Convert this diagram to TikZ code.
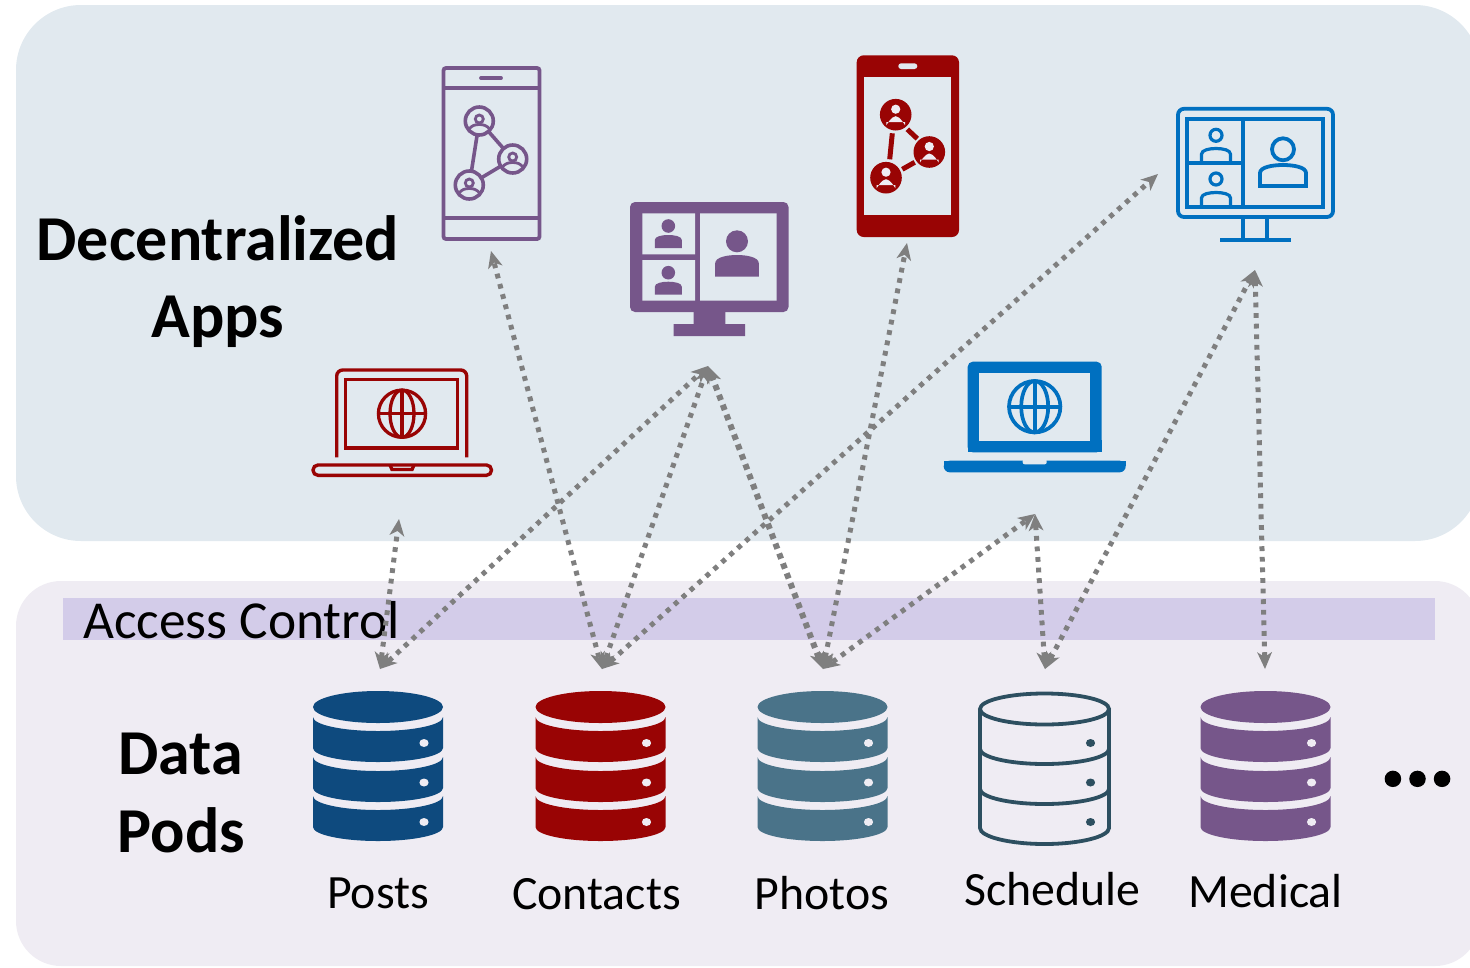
\documentclass[tikz,border=0pt]{standalone}
\usepackage{fontspec}
\setmainfont{Carlito}
\usetikzlibrary{arrows.meta}
\definecolor{appbg}{HTML}{E1E9EF}
\definecolor{podbg}{HTML}{EFECF3}
\definecolor{acband}{HTML}{D3CCE9}
\definecolor{navy}{HTML}{0E4A7E}
\definecolor{darkred}{HTML}{990404}
\definecolor{teal}{HTML}{4A7389}
\definecolor{slateline}{HTML}{2D4F60}
\definecolor{plum}{HTML}{76568A}
\definecolor{azure}{HTML}{0070C0}
\definecolor{linkgray}{HTML}{7F7F7F}
\tikzset{
  link/.style={draw=linkgray,line width=5pt,dash pattern=on 4.8pt off 5.8pt,
    {Stealth[length=17pt,width=15pt,inset=5pt,line width=0pt]}-{Stealth[length=17pt,width=15pt,inset=5pt,line width=0pt]}},
  heavylink/.style={link,line width=6pt,dash pattern=on 5.6pt off 5pt},
  headtext/.style={font=\bfseries\fontsize{64}{64}\selectfont,text=black,inner sep=0pt},
  podlabel/.style={font=\fontsize{47.8}{47.8}\selectfont,text=black,inner sep=0pt},
}
% one segment of a solid pod: top y, height
\newcommand{\dbseg}[2]{(-65,#1) .. controls (-65,#1+7.7) and (-36,#1+14) .. (0,#1+14) .. controls (36,#1+14) and (65,#1+7.7) .. (65,#1) -- (65,#1+#2) .. controls (65,#1+#2+7.7) and (36,#1+#2+14) .. (0,#1+#2+14) .. controls (-36,#1+#2+14) and (-65,#1+#2+7.7) .. (-65,#1+#2) -- cycle}
\newcommand{\podsolid}[2]{% cx, colour
  \begin{scope}[shift={(#1,0)}]
    \fill[#2] (0,707) ellipse [x radius=65pt,y radius=16pt];
    \fill[#2] \dbseg{717}{31} \dbseg{757}{31} \dbseg{796}{31};
    \foreach \yy in {743,782.5,822}{\fill[podbg] (46,\yy) ellipse [x radius=4.6pt,y radius=4pt];}
  \end{scope}}
% person: cx, head y, head r, half width, body top, body bottom, style
\newcommand{\prsn}[7]{%
  \path[#7] (#1,#2) circle [radius=#3 pt];
  \path[#7] (#1-#4,#6) -- (#1-#4,#5+0.38*#6-0.38*#5) .. controls (#1-#4,#5+0.1*#6-0.1*#5) and (#1-0.45*#4,#5) .. (#1,#5) .. controls (#1+0.45*#4,#5) and (#1+#4,#5+0.1*#6-0.1*#5) .. (#1+#4,#5+0.38*#6-0.38*#5) -- (#1+#4,#6) -- cycle;}
% globe: cx, cy, r, rx of meridian, line width, colour
\newcommand{\globe}[6]{%
  \draw[#6,line width=#5pt] (#1,#2) circle [radius=#3 pt];
  \draw[#6,line width=#5pt] (#1,#2) ellipse [x radius=#4 pt,y radius=#3 pt];
  \draw[#6,line width=#5pt] (#1,#2-#3) -- (#1,#2+#3) (#1-#3,#2) -- (#1+#3,#2);}
% ring with person for outline phone
\newcommand{\ringp}[2]{%
  \draw[plum,line width=3.6pt] (#1,#2) circle [radius=14pt];
  \draw[plum,line width=2.8pt] (#1,#2-2) circle [radius=4pt];
  \draw[plum,line width=2.8pt] (#1-10.5,#2+8.5) .. controls (#1-8,#2+4.5) and (#1-4,#2+3.5) .. (#1,#2+3.5) .. controls (#1+4,#2+3.5) and (#1+8,#2+4.5) .. (#1+10.5,#2+8.5);}
\begin{document}
\begin{tikzpicture}[x=1pt,y=-1pt]
\useasboundingbox (0,0) rectangle (1470,967);
\clip (0,0) rectangle (1470,967);
% panels
\fill[appbg,rounded corners=65pt] (16,5) rectangle (1480,541);
\fill[podbg,rounded corners=45pt] (16,581) rectangle (1480,966);
\fill[acband] (63,598) rectangle (1435,640);

% headings
\node[headtext] (htA) at (218,238) {Decentralized};
\node[headtext] (htB) at (218,322) {Apps};
\node[headtext] (htC) at (180.5,754) {Data};
\node[headtext] (htD) at (181.5,830) {Pods};
\node[font=\fontsize{53.4}{53.4}\selectfont,anchor=west,inner sep=0pt] (ac) at (83,620) {Access Control};

% purple outline phone
\draw[plum,line width=3.8pt,rounded corners=2.5pt] (443.5,68) rectangle (539.5,239);
\draw[plum,line width=3.8pt] (443.5,88) -- (539.5,88) (443.5,218) -- (539.5,218);
\draw[plum,line width=3.8pt,line cap=round] (481,78) -- (501,78);
\draw[plum,line width=3.6pt] (479.3,121) -- (512.7,159) -- (469.3,185) -- cycle;
\fill[appbg] (479.3,121) circle [radius=14pt] (512.7,159) circle [radius=14pt] (469.3,185) circle [radius=14pt];
\ringp{479.3}{121}\ringp{512.7}{159}\ringp{469.3}{185}

% purple solid monitor
\fill[plum,rounded corners=5pt] (630,202) rectangle (788.5,312);
\fill[plum] (693.7,310) rectangle (725.3,326) (673.7,324) rectangle (745,336);
\fill[appbg] (642.3,213.3) rectangle (695,254.3) (642.3,260) rectangle (695,300.7) (700,213.3) rectangle (776.7,300.7);
\prsn{668.3}{226}{6.8}{13.5}{235}{248}{fill=plum}
\prsn{668.3}{272.7}{6.8}{13.5}{281.7}{294.7}{fill=plum}
\prsn{737}{241.3}{11}{21.8}{255}{276.7}{fill=plum}

% red solid phone
\fill[darkred,rounded corners=7pt] (856.7,55.3) rectangle (959,237);
\fill[appbg] (864.3,77) rectangle (951.3,215.3);
\fill[appbg,rounded corners=2.8pt] (898.3,63.3) rectangle (917.3,69);
\draw[darkred,line width=5pt] (892.3,133.3) -- (889.7,159.3) (907.3,129.3) -- (917.3,138.7) (914.7,162.3) -- (902.3,169.3);
\foreach \cx/\cy in {895.7/114.7,929.3/152,886/177.7}{
  \fill[darkred] (\cx,\cy) circle [radius=15.8pt];
  \prsn{\cx}{\cy-5.5}{4.6}{9.3}{\cy+1.5}{\cy+7.5}{fill=podbg}
}

% blue outline monitor
\draw[azure,line width=3.8pt,rounded corners=6pt] (1178,108.8) rectangle (1333,217);
\draw[azure,line width=3.8pt] (1187.3,119) rectangle (1323.3,206.7);
\draw[azure,line width=3.8pt] (1243.3,119) -- (1243.3,206.7) (1187.3,163.3) -- (1243.3,163.3);
\draw[azure,line width=3.8pt] (1243.3,217) -- (1243.3,240) (1267.3,217) -- (1267.3,240) (1220,240) -- (1290.7,240);
\prsn{1216}{135.3}{6}{14.5}{148.5}{163.3}{draw=azure,line width=3.2pt}
\prsn{1216}{179}{6}{14.5}{192.5}{206.7}{draw=azure,line width=3.2pt}
\prsn{1283}{149.3}{11}{23}{165}{186}{draw=azure,line width=3.8pt}

% red outline laptop
\draw[darkred,line width=3.4pt,rounded corners=6pt] (336.7,457.3) -- (336.7,370) -- (466.7,370) -- (466.7,457.3);
\draw[darkred,line width=3.4pt] (345.7,379.6) rectangle (457.7,448);
\globe{402}{413.7}{23.6}{12}{3.3}{darkred}
\draw[darkred,line width=3.4pt] (390,465) -- (392,469.5) -- (412,469.5) -- (414,465);
\draw[darkred,line width=3.4pt,rounded corners=5pt] (313,465) -- (313,475.3) -- (491.5,475.3) -- (491.5,465) -- cycle;

% blue solid laptop
\fill[azure,rounded corners=5pt] (967.7,452.3) -- (967.7,361.7) -- (1101.7,361.7) -- (1101.7,452.3) -- cycle;
\fill[azure] (967.7,440) rectangle (1101.7,452.3);
\fill[appbg] (979,373.3) rectangle (1090,440.7);
\globe{1034.7}{406.7}{25.7}{13.5}{3.7}{azure}
\fill[azure,rounded corners=6pt] (943.7,460.7) -- (943.7,472.3) -- (1125.7,472.3) -- (1125.7,460.7) -- cycle;
\fill[azure] (943.7,460.7) rectangle (1125.7,466);
\fill[appbg,rounded corners=2pt] (1022.7,459) rectangle (1046.7,464.3);

% pods
\podsolid{378}{navy}
\podsolid{600.5}{darkred}
\podsolid{822.5}{teal}
\podsolid{1265.5}{plum}
\begin{scope}[shift={(1044.5,0)}]
  \draw[slateline,line width=3.8pt] (0,709) ellipse [x radius=64.5pt,y radius=15.5pt];
  \draw[slateline,line width=3.8pt] (-64.5,709) -- (-64.5,828) .. controls (-64.5,836.5) and (-36,844) .. (0,844) .. controls (36,844) and (64.5,836.5) .. (64.5,828) -- (64.5,709);
  \draw[slateline,line width=3.8pt] (-64.5,749) .. controls (-64.5,757) and (-36,764) .. (0,764) .. controls (36,764) and (64.5,757) .. (64.5,749);
  \draw[slateline,line width=3.8pt] (-64.5,789) .. controls (-64.5,797) and (-36,804) .. (0,804) .. controls (36,804) and (64.5,797) .. (64.5,789);
  \foreach \yy in {743,782.5,822}{\fill[slateline] (46,\yy) ellipse [x radius=4.6pt,y radius=4pt];}
\end{scope}

% pod labels
\node[podlabel] (lp1) at (378,893) {Posts};
\node[podlabel] (lp2) at (596.5,894) {Contacts};
\node[podlabel] (lp3) at (822,893) {Photos};
\node[podlabel] (lp4) at (1052.5,889) {Schedule};
\node[podlabel] (lp5) at (1265.5,891) {Medical};
\node[font=\bfseries\fontsize{92}{92}\selectfont\addfontfeature{FakeBold=3},anchor=base,inner sep=0pt] (more) at (1417.5,785) {...};

% connector ends
\coordinate (posts) at (380,669);
\coordinate (contacts) at (602,669);
\coordinate (photos) at (823,669);
\coordinate (schedule) at (1045,669);
\coordinate (medical) at (1265,669);
\coordinate (redlaptop) at (399,519);
\coordinate (purplemon) at (708,366);
\coordinate (purplephone) at (491,251);
\coordinate (redphone) at (907,243);
\coordinate (bluemonL) at (1158,174);
\coordinate (bluemonB) at (1255,270);
\coordinate (bluelaptop) at (1035,514);

\draw[link] (posts) -- (redlaptop);
\draw[link] (posts) -- (purplemon);
\draw[link] (contacts) -- (purplephone);
\draw[link] (contacts) -- (purplemon);
\draw[link] (contacts) -- (bluemonL);
\draw[heavylink] (photos) -- (purplemon);
\draw[link] (photos) -- (redphone);
\draw[link] (photos) -- (bluelaptop);
\draw[link] (schedule) -- (bluelaptop);
\draw[link] (schedule) -- (bluemonB);
\draw[link] (medical) -- (bluemonB);
\end{tikzpicture}
\end{document}
